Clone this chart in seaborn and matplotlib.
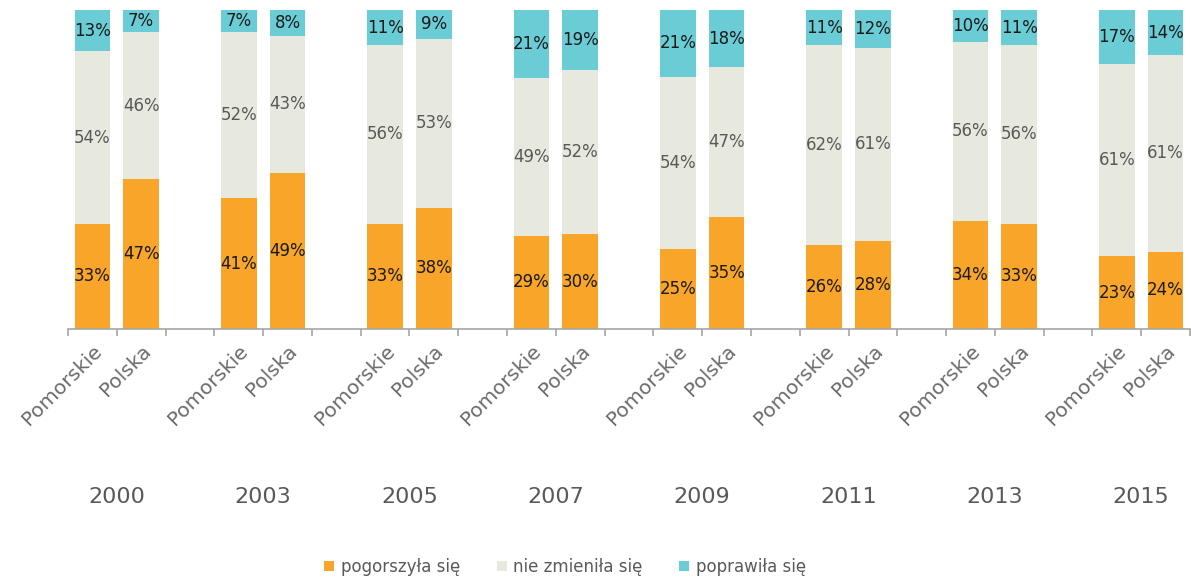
import numpy as np
import pandas as pd
import matplotlib
matplotlib.use("Agg")
import matplotlib.pyplot as plt
import seaborn as sns
from matplotlib.patches import Patch

years = ["2000", "2003", "2005", "2007", "2009", "2011", "2013", "2015"]
regions = ["Pomorskie", "Polska"]
pogorszyla = [33, 47, 41, 49, 33, 38, 29, 30, 25, 35, 26, 28, 34, 33, 23, 24]
nie_zmienila = [54, 46, 52, 43, 56, 53, 49, 52, 54, 47, 62, 61, 56, 56, 61, 61]
poprawila = [13, 7, 7, 8, 11, 9, 21, 19, 21, 18, 11, 12, 10, 11, 17, 14]
series_names = ["pogorszyła się", "nie zmieniła się", "poprawiła się"]
colors = ["#F8A529", "#E8E9DE", "#6ACDD5"]
label_colors = ["#1a1a1a", "#595959", "#1a1a1a"]

sns.set_theme(style="white")
plt.rcParams['font.family'] = ['DejaVu Sans']

# build slot order (with empty gap slots between years)
order, tick_text, rows = [], [], []
k = 0
for gi, y in enumerate(years):
    for r in regions:
        key = f"{y} {r}"
        order.append(key)
        tick_text.append(r)
        o, m, p = pogorszyla[k], nie_zmienila[k], poprawila[k]
        tot = o + m + p
        rows.append(dict(slot=key, year=y, region=r,
                         c1=o / tot * 100, c2=(o + m) / tot * 100, c3=100.0,
                         o=o, m=m, p=p))
        k += 1
    if gi < len(years) - 1:
        order.append(f"gap{gi}")
        tick_text.append("")
df = pd.DataFrame(rows)

fig = plt.figure(figsize=(11.91, 5.81), dpi=100)
ax = fig.add_axes([68 / 1191, (581 - 329) / 581, (1190 - 68) / 1191, 319 / 581])

w = 0.73
for col, c in zip(["c3", "c2", "c1"], colors[::-1]):
    sns.barplot(data=df, x="slot", y=col, order=order, color=c, width=w,
                errorbar=None, ax=ax, saturation=1, linewidth=0)

ax.set_xlim(-0.5, len(order) - 0.5)
ax.set_ylim(0, 100)
ax.set_xlabel("")
ax.set_ylabel("")
ax.set_yticks([])
for s in ["left", "right", "top"]:
    ax.spines[s].set_visible(False)
ax.spines["bottom"].set_color("#A6A6A6")
ax.spines["bottom"].set_linewidth(1.2)

# labels inside segments
pos = {s: i for i, s in enumerate(order)}
for _, r in df.iterrows():
    x = pos[r.slot]
    segs = [(0, r.c1, r.o), (r.c1, r.c2, r.m), (r.c2, r.c3, r.p)]
    for (lo, hi, v), lc in zip(segs, label_colors):
        ax.text(x, (lo + hi) / 2, f"{v}%", ha="center", va="center",
                fontsize=12, color=lc)

# ticks
ax.set_xticks(range(len(order)))
ax.set_xticklabels(tick_text, rotation=45, ha="right", rotation_mode="anchor",
                   fontsize=14.5, color="#6b6b6b")
ax.tick_params(axis="x", which="major", length=0, pad=9)
ax.set_xticks(np.arange(-0.5, len(order) - 0.5 + 0.01, 1.0), minor=True)
ax.tick_params(axis="x", which="minor", length=5, width=1.2, color="#A6A6A6",
               direction="out", bottom=True)

# year labels
trans = matplotlib.transforms.blended_transform_factory(ax.transData, ax.transAxes)
for gi, y in enumerate(years):
    xc = pos[f"{y} Pomorskie"] + 0.5
    ax.text(xc, -0.527, y, transform=trans, ha="center", va="center",
            fontsize=16, color="#595959")

handles = [Patch(facecolor=c, edgecolor="none", label=n) for c, n in zip(colors, series_names)]
fig.legend(handles=handles, loc="center", bbox_to_anchor=(565 / 1191, 1 - 567 / 581),
           ncol=3, frameon=False, fontsize=12, handlelength=0.6, handleheight=0.6,
           handletextpad=0.4, columnspacing=2.2, labelcolor="#595959")

fig.savefig("out.png", dpi=100)
